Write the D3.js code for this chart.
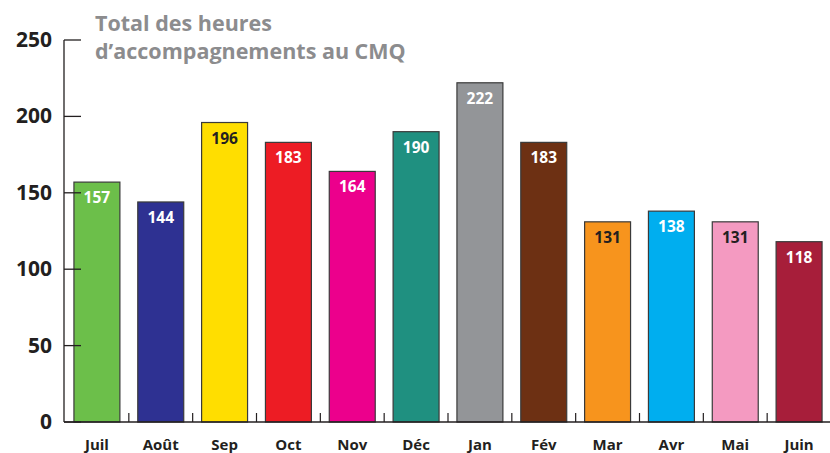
<!DOCTYPE html>
<html>
<head>
<meta charset="utf-8">
<script src="https://cdn.jsdelivr.net/npm/d3@7"></script>
<style>
  body { margin: 0; background: #fff; }
  svg text { font-family: "Open Sans", "DejaVu Sans", sans-serif; font-weight: bold; }
</style>
</head>
<body>
<svg id="chart" width="830" height="453"></svg>
<script>
// monthly totals, hours of support at the CMQ
var months = ["Juil", "Août", "Sep", "Oct", "Nov", "Déc", "Jan", "Fév", "Mar", "Avr", "Mai", "Juin"];
var hours = [157, 144, 196, 183, 164, 190, 222, 183, 131, 138, 131, 118];
var barColors = ["#6cbf4a", "#2e3192", "#ffde00", "#ed1c24", "#ec008c", "#1f9080",
                 "#939598", "#6d3013", "#f7941d", "#00aeef", "#f49ac1", "#a71e3a"];
var labelColors = ["#fff", "#fff", "#231f20", "#fff", "#fff", "#fff",
                   "#fff", "#fff", "#231f20", "#fff", "#231f20", "#fff"];
var yTicks = [0, 50, 100, 150, 200, 250];
var titleLines = ["Total des heures", "d\u2019accompagnements au CMQ"];

var svg = d3.select("#chart");

var x = d3.scaleBand().domain(months).range([65, 831]).paddingInner(0.28).paddingOuter(0.14);
var y = d3.scaleLinear().domain([0, 250]).range([422, 40]);

// bars
svg.selectAll("rect.bar").data(hours).enter().append("rect")
    .attr("class", "bar")
    .attr("x", function(d, i) { return x(months[i]); })
    .attr("y", function(d) { return y(d); })
    .attr("width", x.bandwidth())
    .attr("height", function(d) { return y(0) - y(d); })
    .attr("fill", function(d, i) { return barColors[i]; })
    .attr("stroke", "#3a3a3a")
    .attr("stroke-width", 1.2);

// values inside bars
svg.selectAll("text.val").data(hours).enter().append("text")
    .attr("class", "val")
    .attr("x", function(d, i) { return x(months[i]) + x.bandwidth() / 2; })
    .attr("y", function(d) { return y(d) + 21; })
    .attr("text-anchor", "middle")
    .attr("font-size", "15.5px")
    .attr("fill", function(d, i) { return labelColors[i]; })
    .text(function(d) { return d; });

// y axis: line + ticks pointing right
var axisColor = "#231f20";
svg.append("line")
    .attr("x1", 64).attr("x2", 64)
    .attr("y1", y(250)).attr("y2", y(0))
    .attr("stroke", axisColor).attr("stroke-width", 1.3);

svg.selectAll("line.ytick").data(yTicks).enter().append("line")
    .attr("class", "ytick")
    .attr("x1", 64).attr("x2", 81)
    .attr("y1", function(d) { return y(d); })
    .attr("y2", function(d) { return y(d); })
    .attr("stroke", axisColor).attr("stroke-width", 1.3);

svg.selectAll("text.ylab").data(yTicks).enter().append("text")
    .attr("class", "ylab")
    .attr("x", 52)
    .attr("y", function(d) { return y(d) + 7; })
    .attr("text-anchor", "end")
    .attr("font-size", "21px")
    .attr("fill", axisColor)
    .text(function(d) { return d; });

// x axis baseline + small ticks between bars
svg.append("line")
    .attr("x1", 64).attr("x2", 830)
    .attr("y1", y(0)).attr("y2", y(0))
    .attr("stroke", axisColor).attr("stroke-width", 1.3);

svg.selectAll("line.xtick").data(months.slice(1)).enter().append("line")
    .attr("class", "xtick")
    .attr("x1", function(d) { return x(d) - x.step() * x.paddingInner() / 2; })
    .attr("x2", function(d) { return x(d) - x.step() * x.paddingInner() / 2; })
    .attr("y1", y(0) - 9).attr("y2", y(0))
    .attr("stroke", axisColor).attr("stroke-width", 1.2);

svg.selectAll("text.xlab").data(months).enter().append("text")
    .attr("class", "xlab")
    .attr("x", function(d) { return x(d) + x.bandwidth() / 2; })
    .attr("y", 450)
    .attr("text-anchor", "middle")
    .attr("font-size", "15px")
    .attr("fill", axisColor)
    .text(function(d) { return d; });

// title
svg.selectAll("text.title").data(titleLines).enter().append("text")
    .attr("class", "title")
    .attr("x", 95)
    .attr("y", function(d, i) { return 31 + i * 28; })
    .attr("font-size", "21.5px")
    .attr("fill", "#8c8c8e")
    .text(function(d) { return d; });
</script>
</body>
</html>
